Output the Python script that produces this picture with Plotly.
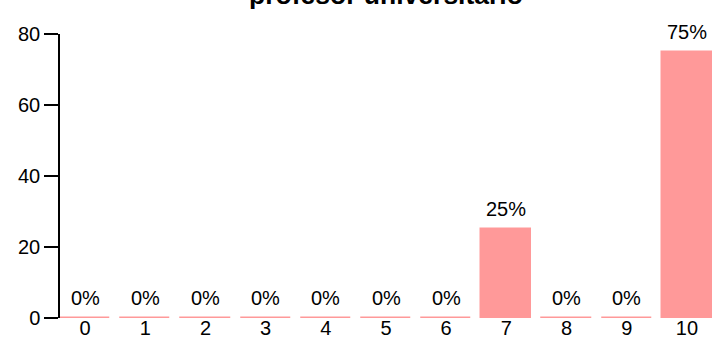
import plotly.graph_objects as go

# Respuestas (porcentaje) para "profesor universitario"
categorias = ['0', '1', '2', '3', '4', '5', '6', '7', '8', '9', '10']
porcentajes = [0, 0, 0, 0, 0, 0, 0, 25, 0, 0, 75]
etiquetas = [f"{v}%" for v in porcentajes]
y_ticks = [0, 20, 40, 60, 80]

color_barra = '#FF9999'
fuente = 'Liberation Sans, Arial, sans-serif'

fig = go.Figure()

fig.add_trace(go.Bar(
    x=categorias,
    y=porcentajes,
    width=0.833,
    marker=dict(color=color_barra, line=dict(color=color_barra, width=1.5)),
    hoverinfo='x+y',
))

# Etiquetas encima de cada barra
for cat, val, txt in zip(categorias, porcentajes, etiquetas):
    fig.add_annotation(
        x=cat, y=val, text=txt, showarrow=False,
        yanchor='bottom', yshift=7,
        font=dict(size=20, color='black', family=fuente),
    )

# Titulo (recortado arriba, como en el original)
fig.add_annotation(
    text='<b>profesor universitario</b>', x=0.5, xref='paper', xanchor='center',
    y=1, yref='paper', yanchor='middle', yshift=39, showarrow=False,
    font=dict(size=26.5, color='black', family=fuente),
)

fig.update_layout(
    width=712, height=339,
    margin=dict(l=60, r=0, t=34, b=21, autoexpand=False),
    plot_bgcolor='white', paper_bgcolor='white',
    showlegend=False,
    font=dict(family=fuente, size=20, color='black'),
    bargap=0,
)

fig.update_xaxes(
    type='category', range=[-0.4167, 10.4167], automargin=False,
    showline=False, showgrid=False, zeroline=False,
    ticks='', tickfont=dict(size=20), ticklabelstandoff=-4,
)
fig.update_yaxes(
    range=[0, 80], tickvals=y_ticks, automargin=False,
    showline=True, linecolor='black', linewidth=1.5,
    ticks='outside', ticklen=14, tickwidth=1.5, tickcolor='black',
    showgrid=False, zeroline=False, tickfont=dict(size=20),
)

# sin margen del body para que la figura empiece en (0, 0)
fig.write_html("out.html", config={'displayModeBar': False},
               post_script="document.body.style.margin='0';")
